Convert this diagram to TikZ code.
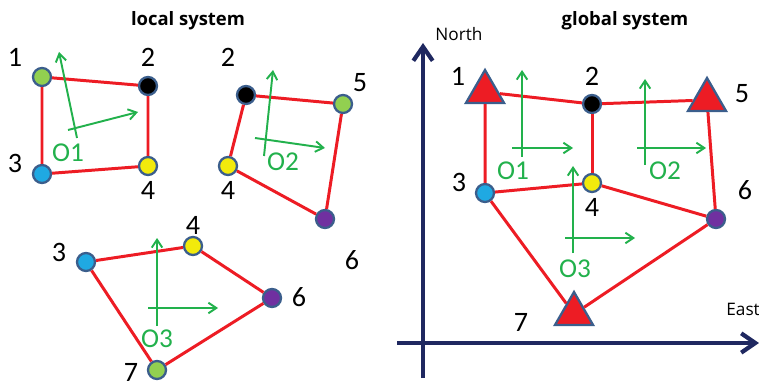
\documentclass[tikz,border=0pt]{standalone}
\usepackage{fontspec}
\setmainfont{Carlito}
\newfontfamily\headfont{Open Sans}
\usetikzlibrary{arrows.meta,shapes.geometric}
\definecolor{linkred}{HTML}{ED1C24}
\definecolor{oframe}{HTML}{22B14C}
\definecolor{rim}{HTML}{3B5E8C}
\definecolor{navy}{HTML}{1F2860}
\definecolor{ptgreen}{HTML}{92D050}
\definecolor{ptblue}{HTML}{1FA9E2}
\definecolor{ptyellow}{HTML}{F2EA0C}
\definecolor{ptpurple}{HTML}{7030A0}
\tikzset{
  dot/.style={circle, draw=rim, line width=1.3pt, inner sep=0pt, minimum size=0.36cm},
  tri/.style={regular polygon, regular polygon sides=3, draw=rim, fill=linkred,
    line width=1.3pt, inner sep=0pt, minimum size=0.88cm},
  link/.style={linkred, line width=1.7pt},
  oaxis/.style={oframe, line width=1.1pt, -{Straight Barb[length=4.5pt, width=6pt]}},
  axis/.style={navy, line width=2.4pt, -{Straight Barb[length=8pt, width=11pt]}},
  num/.style={font=\fontsize{16}{16}\selectfont},
  olabel/.style={oframe, font=\fontsize{15.5}{15.5}\selectfont},
  head/.style={font=\headfont\bfseries\fontsize{10.5}{12}\selectfont},
  dir/.style={font=\headfont\fontsize{9.8}{11}\selectfont},
}

\begin{document}
\begin{tikzpicture}[x=0.02cm, y=-0.02cm]
  \useasboundingbox (0,0) rectangle (759,381);

  % Titles
  \node[head] (localtitle) at (188,21) {local system};
  \node[head] (globaltitle) at (625,21) {global system};

  % Local system, first element
  \node[dot, fill=ptgreen] (a1) at (42,77) {};
  \node[dot, fill=black] (a2) at (148,86) {};
  \node[dot, fill=ptblue] (a3) at (42,174) {};
  \node[dot, fill=ptyellow] (a4) at (148,166) {};
  \draw[link] (a1) -- (a2) -- (a4) -- (a3) -- (a1);
  \node[num] (a1n) at (15,57) {1};
  \node[num] (a2n) at (148,57) {2};
  \node[num] (a3n) at (15,163) {3};
  \node[num] (a4n) at (148,190) {4};
  \coordinate (o1v) at (77,138);
  \coordinate (o1n) at (59,52);
  \coordinate (o1w) at (68,130);
  \coordinate (o1e) at (138,112);
  \draw[oaxis] (o1v) -- (o1n);
  \draw[oaxis] (o1w) -- (o1e);
  \node[olabel] (o1l) at (68,153) {O1};

  % Local system, second element
  \node[dot, fill=black] (b2) at (246,95) {};
  \node[dot, fill=ptgreen] (b5) at (343,104) {};
  \node[dot, fill=ptyellow] (b4) at (228,166) {};
  \node[dot, fill=ptpurple] (b6) at (325,219) {};
  \draw[link] (b2) -- (b5) -- (b6) -- (b4) -- (b2);
  \node[num] (b2n) at (228,57) {2};
  \node[num] (b5n) at (360,83) {5};
  \node[num] (b4n) at (228,190) {4};
  \node[num] (b6n) at (352,260) {6};
  \coordinate (o2v) at (264,156);
  \coordinate (o2n) at (273,70);
  \coordinate (o2w) at (255,138);
  \coordinate (o2e) at (325,148);
  \draw[oaxis] (o2v) -- (o2n);
  \draw[oaxis] (o2w) -- (o2e);
  \node[olabel] (o2l) at (283,162) {O2};

  % Local system, third element
  \node[dot, fill=ptblue] (c3) at (86,262) {};
  \node[dot, fill=ptyellow] (c4) at (193,246) {};
  \node[dot, fill=ptpurple] (c6) at (272,298) {};
  \node[dot, fill=ptgreen] (c7) at (157,370) {};
  \draw[link] (c3) -- (c4) -- (c6) -- (c7) -- (c3);
  \node[num] (c3n) at (59,252) {3};
  \node[num] (c4n) at (193,225) {4};
  \node[num] (c6n) at (299,297) {6};
  \node[num] (c7n) at (131,372) {7};
  \coordinate (o3v) at (157,326);
  \coordinate (o3n) at (157,238);
  \coordinate (o3w) at (148,308);
  \coordinate (o3e) at (218,308);
  \draw[oaxis] (o3v) -- (o3n);
  \draw[oaxis] (o3w) -- (o3e);
  \node[olabel] (o3l) at (157,339) {O3};

  % Global axes
  \coordinate (nfoot) at (423,378);
  \coordinate (ntip) at (423,43);
  \coordinate (efoot) at (397,343);
  \coordinate (etip) at (759,343);
  \draw[axis] (nfoot) -- (ntip);
  \draw[axis] (efoot) -- (etip);
  \node[dir] (north) at (459,34) {North};
  \node[dir, anchor=west, inner sep=0pt] (east) at (726,309) {East};

  % Global system
  \node[tri] (g1) at (485,92) {};
  \node[dot, fill=black] (g2) at (592,104) {};
  \node[tri] (g5) at (707,100) {};
  \node[dot, fill=ptblue] (g3) at (485,193) {};
  \node[dot, fill=ptyellow] (g4) at (592,183) {};
  \node[dot, fill=ptpurple] (g6) at (716,219) {};
  \node[tri] (g7) at (574,314) {};
  \draw[link] (g1) -- (g2) -- (g5);
  \draw[link] (g1) -- (g3) -- (g4) -- (g6) -- (g7) -- (g3);
  \draw[link] (g2) -- (g4);
  \draw[link] (g5) -- (g6);
  \node[num] (g1n) at (458,76) {1};
  \node[num] (g2n) at (592,76) {2};
  \node[num] (g5n) at (742,94) {5};
  \node[num] (g3n) at (459,182) {3};
  \node[num] (g4n) at (592,207) {4};
  \node[num] (g6n) at (745,190) {6};
  \node[num] (g7n) at (521,322) {7};
  \coordinate (p1v) at (522,157);
  \coordinate (p1n) at (522,70);
  \coordinate (p1w) at (512,148);
  \coordinate (p1e) at (573,148);
  \draw[oaxis] (p1v) -- (p1n);
  \draw[oaxis] (p1w) -- (p1e);
  \node[olabel] (p1l) at (513,171) {O1};
  \coordinate (p2v) at (645,165);
  \coordinate (p2n) at (645,79);
  \coordinate (p2w) at (637,148);
  \coordinate (p2e) at (706,148);
  \draw[oaxis] (p2v) -- (p2n);
  \draw[oaxis] (p2w) -- (p2e);
  \node[olabel] (p2l) at (665,171) {O2};
  \coordinate (p3v) at (573,253);
  \coordinate (p3n) at (573,166);
  \coordinate (p3w) at (565,238);
  \coordinate (p3e) at (635,238);
  \draw[oaxis] (p3v) -- (p3n);
  \draw[oaxis] (p3w) -- (p3e);
  \node[olabel] (p3l) at (575,269) {O3};
\end{tikzpicture}
\end{document}
